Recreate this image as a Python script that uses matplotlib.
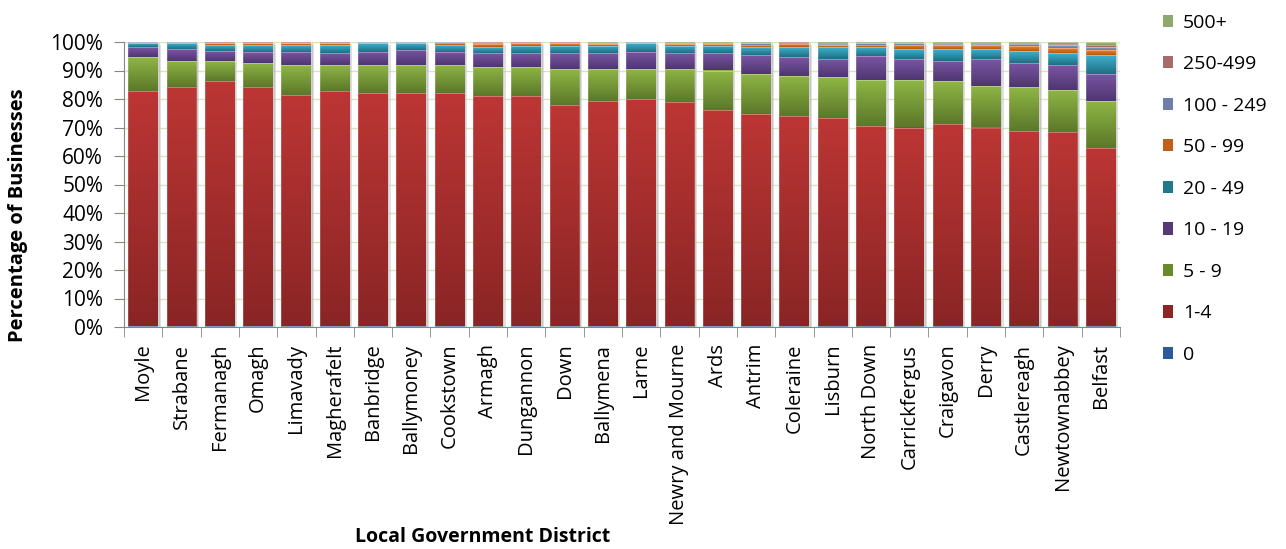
import numpy as np
import matplotlib
matplotlib.use('Agg')
import matplotlib.pyplot as plt
from matplotlib.colors import LinearSegmentedColormap
from matplotlib.patches import Patch, Rectangle

plt.rcParams['font.family'] = ['Open Sans', 'DejaVu Sans']

districts = ['Moyle', 'Strabane', 'Fermanagh', 'Omagh', 'Limavady', 'Magherafelt',
             'Banbridge', 'Ballymoney', 'Cookstown', 'Armagh', 'Dungannon', 'Down',
             'Ballymena', 'Larne', 'Newry and Mourne', 'Ards', 'Antrim', 'Coleraine',
             'Lisburn', 'North Down', 'Carrickfergus', 'Craigavon', 'Derry',
             'Castlereagh', 'Newtownabbey', 'Belfast']

# share of businesses (%) by employee size band
size_0 = [0.2, 0.2, 0.2, 0.2, 0.2, 0.2, 0.2, 0.2, 0.2, 0.2, 0.2, 0.2, 0.2,
          0.2, 0.2, 0.3, 0.3, 0.3, 0.5, 0.5, 0.4, 0.5, 0.3, 0.4, 0.4, 0.5]
size_1_4 = [82.7, 83.9, 86.0, 83.9, 81.3, 82.7, 81.9, 81.9, 81.9, 80.7, 80.7, 77.8, 79.2,
            79.9, 78.6, 75.9, 74.5, 73.8, 73.0, 70.1, 69.6, 70.8, 69.7, 68.5, 67.9, 62.3]
size_5_9 = [11.8, 9.3, 7.2, 8.7, 10.5, 9.1, 9.9, 9.9, 9.9, 10.3, 10.3, 12.6, 11.2,
            10.5, 11.8, 13.8, 14.1, 14.1, 14.1, 16.2, 16.8, 14.9, 14.7, 15.2, 15.0, 16.6]
size_10_19 = [3.5, 4.1, 3.4, 3.8, 4.6, 4.1, 4.6, 5.3, 4.6, 4.9, 4.9, 5.5, 5.5,
              6.0, 5.5, 6.1, 6.6, 6.5, 6.5, 8.2, 7.3, 7.2, 9.4, 8.7, 8.7, 9.5]
size_20_49 = [1.3, 2.1, 2.0, 2.2, 2.2, 2.7, 3.0, 2.3, 2.2, 2.0, 2.6, 2.6, 2.6,
              3.0, 2.6, 2.6, 2.7, 3.4, 4.0, 3.1, 3.4, 4.1, 3.4, 3.9, 4.1, 6.6]
size_50_99 = [0.3, 0.2, 0.7, 0.7, 0.7, 0.7, 0.2, 0.2, 1.0, 1.3, 0.8, 0.8, 0.7,
              0.2, 0.7, 0.6, 0.9, 1.3, 0.7, 1.0, 1.6, 1.3, 1.3, 1.8, 1.8, 1.8]
size_100_249 = [0.1, 0.1, 0.3, 0.3, 0.3, 0.3, 0.1, 0.1, 0.1, 0.2, 0.3, 0.3, 0.2,
                0.1, 0.3, 0.4, 0.5, 0.4, 0.5, 0.5, 0.5, 0.6, 0.6, 0.9, 0.9, 0.9]
size_250_499 = [0.05, 0.05, 0.1, 0.1, 0.1, 0.1, 0.05, 0.05, 0.05, 0.3, 0.1, 0.1, 0.1,
                0.05, 0.1, 0.1, 0.2, 0.1, 0.3, 0.2, 0.2, 0.3, 0.3, 0.3, 0.5, 0.9]
size_500 = [0.05, 0.05, 0.1, 0.1, 0.1, 0.1, 0.05, 0.05, 0.05, 0.1, 0.1, 0.1, 0.3,
            0.05, 0.2, 0.2, 0.2, 0.1, 0.4, 0.2, 0.2, 0.3, 0.3, 0.3, 0.7, 0.9]

bands = ['0', '1-4', '5 - 9', '10 - 19', '20 - 49', '50 - 99', '100 - 249', '250-499', '500+']
series = [size_0, size_1_4, size_5_9, size_10_19, size_20_49, size_50_99,
          size_100_249, size_250_499, size_500]

# (dark bottom, light top) for the bar gradients, plus legend swatch colour
grad_colors = [('#2c4d75', '#5a8ac4'), ('#8a2525', '#bc3634'), ('#5c782a', '#8fb645'),
               ('#4f3670', '#7a56a4'), ('#1f6f84', '#3fb0cc'), ('#b65a10', '#f58a35'),
               ('#62789e', '#8fa8d2'), ('#a06262', '#cd8282'), ('#809a60', '#b0c888')]
legend_colors = ['#2a5a97', '#8e2525', '#6a8a2c', '#553a78', '#21788c',
                 '#c06018', '#6a80aa', '#a86a6a', '#8fa870']

data = np.array(series, dtype=float)
shares = data / data.sum(axis=0) * 100

fig = plt.figure(figsize=(12.86, 5.49), dpi=100)
ax = fig.add_axes([124 / 1286, 1 - 327 / 549, 996 / 1286, 285 / 549])

x = np.arange(len(districts))
w = 0.78
grad = np.linspace(0, 1, 64).reshape(-1, 1)

# soft drop shadow behind each column
for i in x:
    ax.add_patch(Rectangle((i - w / 2 + 0.07, -0.9), w, 100, facecolor='#c8c8c8',
                           edgecolor='none', alpha=0.55, zorder=2))
    ax.add_patch(Rectangle((i - w / 2 + 0.04, -0.5), w, 100, facecolor='#b0b0b0',
                           edgecolor='none', alpha=0.5, zorder=2))

bottom = np.zeros(len(districts))
for k, vals in enumerate(shares):
    cmap = LinearSegmentedColormap.from_list('band%d' % k, grad_colors[k])
    for i in x:
        h = vals[i]
        if h <= 0:
            continue
        ax.imshow(grad, extent=(i - w / 2, i + w / 2, bottom[i], bottom[i] + h),
                  origin='lower', cmap=cmap, aspect='auto', interpolation='bilinear',
                  zorder=3)
        ax.add_patch(Rectangle((i - w / 2, bottom[i]), w, h, facecolor='none',
                               edgecolor=(1, 1, 1, 0.25), linewidth=0.5, zorder=4))
    bottom += vals

ax.set_xlim(-0.5, len(districts) - 0.5)
ax.set_ylim(0, 100)

ax.set_yticks(np.arange(0, 101, 10))
ax.set_yticklabels(['%d%%' % v for v in range(0, 101, 10)], fontsize=15)
ax.yaxis.grid(True, color='#d7e4bd', linewidth=1.0, zorder=0)
ax.set_axisbelow(True)

ax.set_xticks(x)
ax.set_xticklabels(districts, rotation=90, fontsize=14.5)
ax.set_xticks(np.arange(-0.5, len(districts)), minor=True)
ax.tick_params(axis='x', which='major', length=0, pad=12)
ax.tick_params(axis='x', which='minor', length=7, color='#868686', direction='out')
ax.tick_params(axis='y', length=7, color='#868686', direction='out', pad=8)

for s in ['top', 'right']:
    ax.spines[s].set_visible(False)
for s in ['left', 'bottom']:
    ax.spines[s].set_color('#868686')

fig.text(18 / 1286, 1 - 215 / 549, 'Percentage of Businesses', rotation=90,
         fontsize=14.5, fontweight='bold', ha='center', va='center')
fig.text(483 / 1286, 1 - 537 / 549, 'Local Government District',
         fontsize=14, fontweight='bold', ha='center', va='center')

handles = [Patch(facecolor=c, edgecolor='none') for c in legend_colors]
fig.legend(handles[::-1], bands[::-1], loc='upper left',
           bbox_to_anchor=(1147 / 1286, 1 + 2 / 549), frameon=False, fontsize=14,
           handlelength=0.55, handleheight=0.6, handletextpad=0.5, labelspacing=1.21,
           borderpad=0.3)

fig.savefig('out.png', dpi=100)
